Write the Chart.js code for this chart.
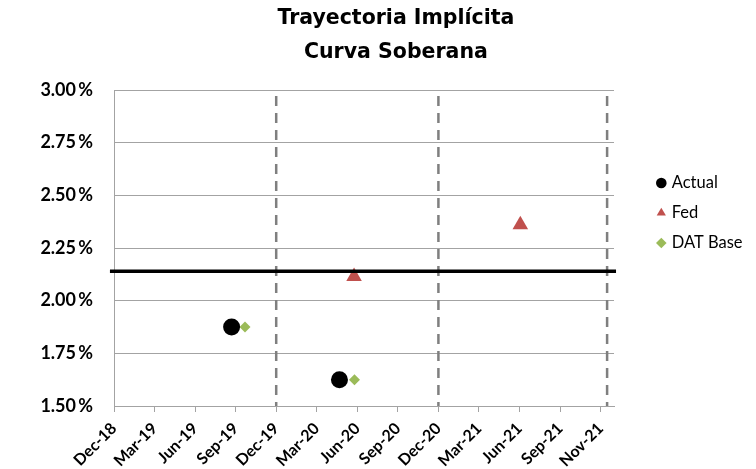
<!DOCTYPE html>
<html>
<head>
<meta charset="utf-8">
<script src="https://cdn.jsdelivr.net/npm/chart.js@4.4.1/dist/chart.umd.min.js"></script>
<style>
  html, body { margin: 0; padding: 0; background: #ffffff; }
  #wrap { width: 756px; height: 469px; }
</style>
</head>
<body>
<div id="wrap"><canvas id="chart" width="756" height="469"></canvas></div>
<script>
// Quarter labels along the horizontal axis (one unit per label)
const tickLabels = ['Dec-18', 'Mar-19', 'Jun-19', 'Sep-19', 'Dec-19', 'Mar-20',
                    'Jun-20', 'Sep-20', 'Dec-20', 'Mar-21', 'Jun-21', 'Sep-21', 'Nov-21'];

// Series positions (x in label units) and rates (%)
const actualX   = [2.90, 5.56];
const actualY   = [1.875, 1.625];
const fedX      = [5.92, 10.02];
const fedY      = [2.115, 2.36];
const datBaseX  = [3.23, 5.93];
const datBaseY  = [1.875, 1.625];

// Current level and year-end markers
const currentLevel = 2.14;
const yearEndX = [4, 8, 12.16];

// Axis ranges
const xMin = 0, xMax = 12.33;
const yMin = 1.5, yMax = 3.0, yStep = 0.25;

const zip = (xs, ys) => xs.map((x, i) => ({ x: x, y: ys[i] }));

Chart.defaults.font.family = 'Lato';
Chart.defaults.color = '#000000';

const gridGray = '#a3a3a3';

const yearEndSets = yearEndX.map(x => ({
  type: 'line',
  data: [{ x: x, y: yMax }, { x: x, y: yMin }],
  showLine: true,
  borderColor: '#7f7f7f',
  borderWidth: 2.5,
  borderDash: [10, 7],
  borderDashOffset: -6,
  pointRadius: 0,
  order: 3
}));

new Chart(document.getElementById('chart'), {
  type: 'scatter',
  data: {
    datasets: [
      {
        label: 'Actual',
        data: zip(actualX, actualY),
        pointStyle: 'circle',
        pointRadius: 8.5,
        backgroundColor: '#000000',
        borderColor: '#000000',
        borderWidth: 0,
        order: 2
      },
      {
        label: 'Fed',
        data: zip(fedX, fedY),
        pointStyle: 'triangle',
        pointRadius: 9,
        backgroundColor: '#c0504d',
        borderColor: '#c0504d',
        borderWidth: 0,
        order: 2
      },
      {
        label: 'DAT Base',
        data: zip(datBaseX, datBaseY),
        pointStyle: 'rectRot',
        pointRadius: 5.5,
        backgroundColor: '#9bbb59',
        borderColor: '#9bbb59',
        borderWidth: 0,
        order: 2
      },
      {
        type: 'line',
        data: [{ x: -0.1, y: currentLevel }, { x: 12.38, y: currentLevel }],
        showLine: true,
        borderColor: '#000000',
        borderWidth: 3.5,
        pointRadius: 0,
        clip: false,
        order: 1
      },
      ...yearEndSets
    ]
  },
  options: {
    responsive: false,
    animation: false,
    layout: { padding: { left: 40, right: 4.2, top: 0, bottom: 0 } },
    plugins: {
      title: {
        display: true,
        text: ['Trayectoria Implícita', 'Curva Soberana'],
        color: '#000000',
        font: { family: 'DejaVu Sans', size: 20.5, weight: 'bold', lineHeight: 34 / 20.5 },
        padding: { top: 2, bottom: 20 }
      },
      legend: {
        position: 'right',
        align: 'start',
        fullSize: false,
        maxWidth: 106.2,
        title: { display: true, text: ' ', font: { size: 12 }, padding: 28.4 },
        labels: {
          usePointStyle: true,
          boxWidth: 4.4,
          boxHeight: 7.5,
          padding: 13.5,
          color: '#000000',
          font: { family: 'Lato', size: 16.5 },
          filter: item => item.datasetIndex < 3
        }
      },
      tooltip: { enabled: false }
    },
    scales: {
      x: {
        type: 'linear',
        min: xMin,
        max: xMax,
        afterBuildTicks: s => { s.ticks = tickLabels.map((_, i) => ({ value: i })); },
        afterFit: s => { s.height = 63; },
        grid: { drawOnChartArea: false, drawTicks: true, tickLength: 6, color: gridGray },
        border: { display: true, color: gridGray, width: 1 },
        ticks: {
          autoSkip: false,
          maxRotation: 45,
          minRotation: 45,
          padding: 7,
          color: '#000000',
          font: { family: 'Lato', size: 16, weight: 'bold' },
          callback: v => tickLabels[v] ?? ''
        }
      },
      y: {
        min: yMin,
        max: yMax,
        afterFit: s => { s.width = 74; },
        grid: { color: gridGray, drawTicks: false },
        border: { display: true, color: gridGray, width: 1 },
        ticks: {
          stepSize: yStep,
          padding: 21,
          color: '#000000',
          font: { family: 'Lato', size: 18, weight: 'bold' },
          callback: v => v.toFixed(2) + '\u2009%'
        }
      },
      spacer: {
        position: 'right',
        display: true,
        grid: { display: false },
        border: { display: false },
        ticks: { display: false },
        afterFit: s => { s.width = 31.6; }
      }
    }
  }
});
</script>
</body>
</html>
